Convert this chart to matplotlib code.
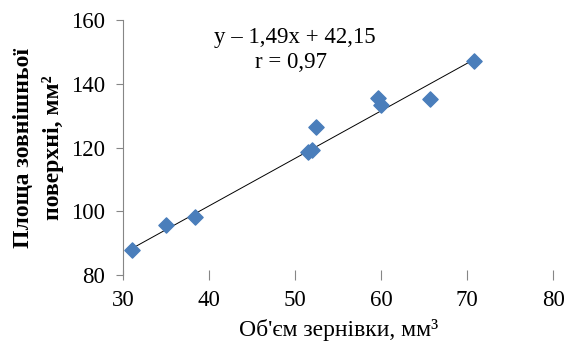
import numpy as np
import matplotlib.pyplot as plt

# grain volume (mm3) and outer surface area (mm2)
volume = [31.0, 35.0, 38.3, 51.5, 52.0, 52.4, 59.6, 60.0, 65.7, 70.8]
area = [87.8, 95.6, 98.3, 118.6, 119.3, 126.6, 135.6, 133.4, 135.4, 147.2]

# trend line from the chart
slope = 1.49
intercept = 42.15
x_ticks = [30, 40, 50, 60, 70, 80]
y_ticks = [80, 100, 120, 140, 160]

plt.rcParams['font.family'] = ['Liberation Serif', 'DejaVu Serif']

fig = plt.figure(figsize=(5.65, 3.41), dpi=100)
ax = fig.add_axes([0.218, 0.193, 0.761, 0.748])

ax.scatter(volume, area, marker='D', s=60, color='#4a7ebb', zorder=3)

xs = np.array([min(volume), max(volume)])
ax.plot(xs, slope * xs + intercept, color='black', lw=0.7, zorder=2)

ax.set_xlim(30, 80)
ax.set_ylim(80, 160)
ax.set_xticks(x_ticks)
ax.set_yticks(y_ticks)

for s in ['top', 'right', 'bottom']:
    ax.spines[s].set_visible(False)
ax.spines['left'].set_color('#868686')
ax.tick_params(axis='x', direction='inout', length=7, color='#868686', labelsize=16.5, pad=7)
ax.tick_params(axis='y', direction='out', length=5, color='#868686', labelsize=16.5, pad=8)

ax.text(0.40, 0.93, 'y – 1,49x + 42,15', transform=ax.transAxes, ha='center',
        va='center', fontsize=16.5)
ax.text(0.39, 0.835, 'r = 0,97', transform=ax.transAxes, ha='center',
        va='center', fontsize=16.5)

ax.set_xlabel('Об\'єм зернівки, мм³', fontsize=17, labelpad=6)
ax.set_ylabel('Площа зовнішньої\nповерхні, мм²', fontsize=17, fontweight='bold',
              labelpad=5, linespacing=1.45)

fig.savefig('out.png', dpi=100)
